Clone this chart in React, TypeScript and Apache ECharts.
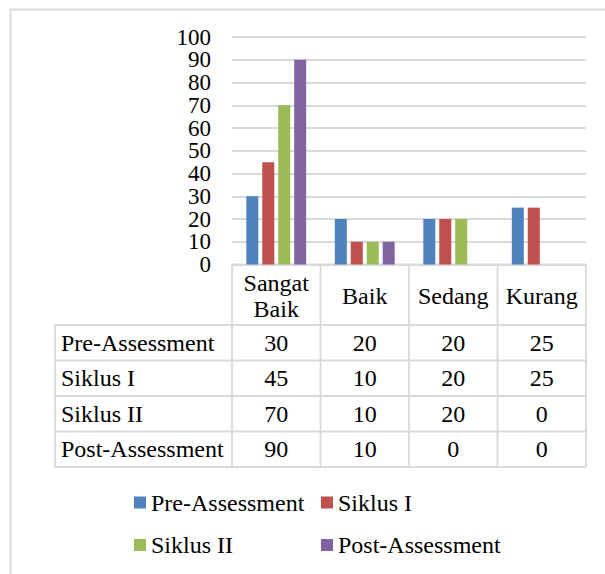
import React, { useEffect, useRef } from "react";
import * as echarts from "echarts";

// ---- data ----
const categories = ["Sangat\nBaik", "Baik", "Sedang", "Kurang"];
const seriesNames = ["Pre-Assessment", "Siklus I", "Siklus II", "Post-Assessment"];
const preAssessment = [30, 20, 20, 25];
const siklusI = [45, 10, 20, 25];
const siklusII = [70, 10, 20, 0];
const postAssessment = [90, 10, 0, 0];
const seriesValues = [preAssessment, siklusI, siklusII, postAssessment];
const seriesColors = ["#4F81BD", "#C0504D", "#9BBB59", "#8064A2"];
const yTicks = { min: 0, max: 100, interval: 10 };

// ---- layout ----
const W = 605;
const H = 574;
const plotLeft = 232;
const plotRight = 586;
const plotTop = 37;
const axisY = 264.5;
const tableLeft = 55;
const headerBottom = 325;
const rowH = 35.5;
const FONT = "Liberation Serif";
const FS = 24;
const AXIS_FS = 23;
const LINE = "#D9D9D9";

function txt(x: number, y: number, text: string, align: string, extra: any = {}) {
  return {
    type: "text",
    x,
    y,
    style: {
      text,
      fontFamily: FONT,
      fontSize: FS,
      fill: "#000",
      align,
      verticalAlign: "middle",
      ...extra,
    },
  };
}

function buildTable(): any[] {
  const els: any[] = [];
  const n = categories.length;
  const colW = (plotRight - plotLeft) / n;
  const tableBottom = headerBottom + rowH * seriesNames.length;
  const line = (x1: number, y1: number, x2: number, y2: number) =>
    els.push({
      type: "line",
      silent: true,
      shape: { x1, y1, x2, y2 },
      style: { stroke: LINE, lineWidth: 1.8 },
    });
  // outer frame (left + top)
  line(10.5, 9.5, 10.5, H);
  line(10, 9.5, W, 9.5);
  // header top
  line(plotLeft, axisY, plotRight, axisY);
  // horizontal row lines
  for (let r = 0; r <= seriesNames.length; r++) {
    const y = headerBottom + r * rowH;
    line(tableLeft, y, plotRight, y);
  }
  // vertical lines
  line(tableLeft, headerBottom, tableLeft, tableBottom);
  for (let c = 0; c <= n; c++) {
    const x = plotLeft + c * colW;
    line(x, axisY, x, tableBottom);
  }
  // header labels
  categories.forEach((cat, i) => {
    els.push(
      txt(plotLeft + (i + 0.5) * colW, (axisY + headerBottom) / 2 + 1, cat, "center", {
        lineHeight: 26,
      })
    );
  });
  // rows
  seriesNames.forEach((name, r) => {
    const yc = headerBottom + (r + 0.5) * rowH;
    els.push(txt(tableLeft + 6, yc, name, "left"));
    seriesValues[r].forEach((v, c) => {
      els.push(txt(plotLeft + (c + 0.5) * colW, yc, String(v), "center"));
    });
  });
  return els;
}

const isEnd = (v: number) => v === yTicks.min || v === yTicks.max;

export default function App() {
  const ref = useRef<HTMLDivElement>(null);
  useEffect(() => {
    if (!ref.current) return;
    const chart = echarts.init(ref.current, null, { renderer: "svg" });
    const legendText = { fontFamily: FONT, fontSize: FS, color: "#000" };
    const baseY = {
      type: "value",
      min: yTicks.min,
      max: yTicks.max,
      interval: yTicks.interval,
      position: "left",
      axisLine: { show: false },
      axisTick: { show: false },
    };
    const labelBase = {
      margin: 21,
      fontFamily: FONT,
      fontSize: AXIS_FS,
      color: "#000",
    };
    chart.setOption({
      animation: false,
      backgroundColor: "#fff",
      grid: {
        left: plotLeft,
        right: W - plotRight,
        top: plotTop,
        bottom: H - axisY,
        containLabel: false,
      },
      xAxis: {
        type: "category",
        data: categories,
        axisLine: { show: false },
        axisTick: { show: false },
        axisLabel: { show: false },
      },
      yAxis: [
        {
          ...baseY,
          axisLabel: {
            ...labelBase,
            showMinLabel: false,
            showMaxLabel: false,
            formatter: (v: number) => (isEnd(v) ? "" : String(v)),
          },
          splitLine: { lineStyle: { color: LINE, width: 1.8 } },
        },
        {
          ...baseY,
          offset: 0,
          axisLabel: {
            ...labelBase,
            showMinLabel: true,
            showMaxLabel: true,
            formatter: (v: number) => (isEnd(v) ? String(v) : ""),
          },
          splitLine: { show: false },
        },
      ],
      legend: [
        {
          data: [seriesNames[0], seriesNames[2]],
          orient: "vertical",
          left: 134,
          top: 490.5,
          padding: 0,
          itemWidth: 12,
          itemHeight: 12,
          itemGap: 18.5,
          icon: "rect",
          textStyle: legendText,
        },
        {
          data: [seriesNames[1], seriesNames[3]],
          orient: "vertical",
          left: 321,
          top: 490.5,
          padding: 0,
          itemWidth: 12,
          itemHeight: 12,
          itemGap: 18.5,
          icon: "rect",
          textStyle: legendText,
        },
      ],
      series: seriesNames.map((name, i) => ({
        name,
        type: "bar",
        data: seriesValues[i],
        barWidth: 12,
        barGap: "33%",
        itemStyle: { color: seriesColors[i] },
      })),
      graphic: buildTable(),
    });
    return () => chart.dispose();
  }, []);
  return (
    <div
      ref={ref}
      style={{ position: "fixed", left: 0, top: 0, width: W, height: H }}
    />
  );
}
